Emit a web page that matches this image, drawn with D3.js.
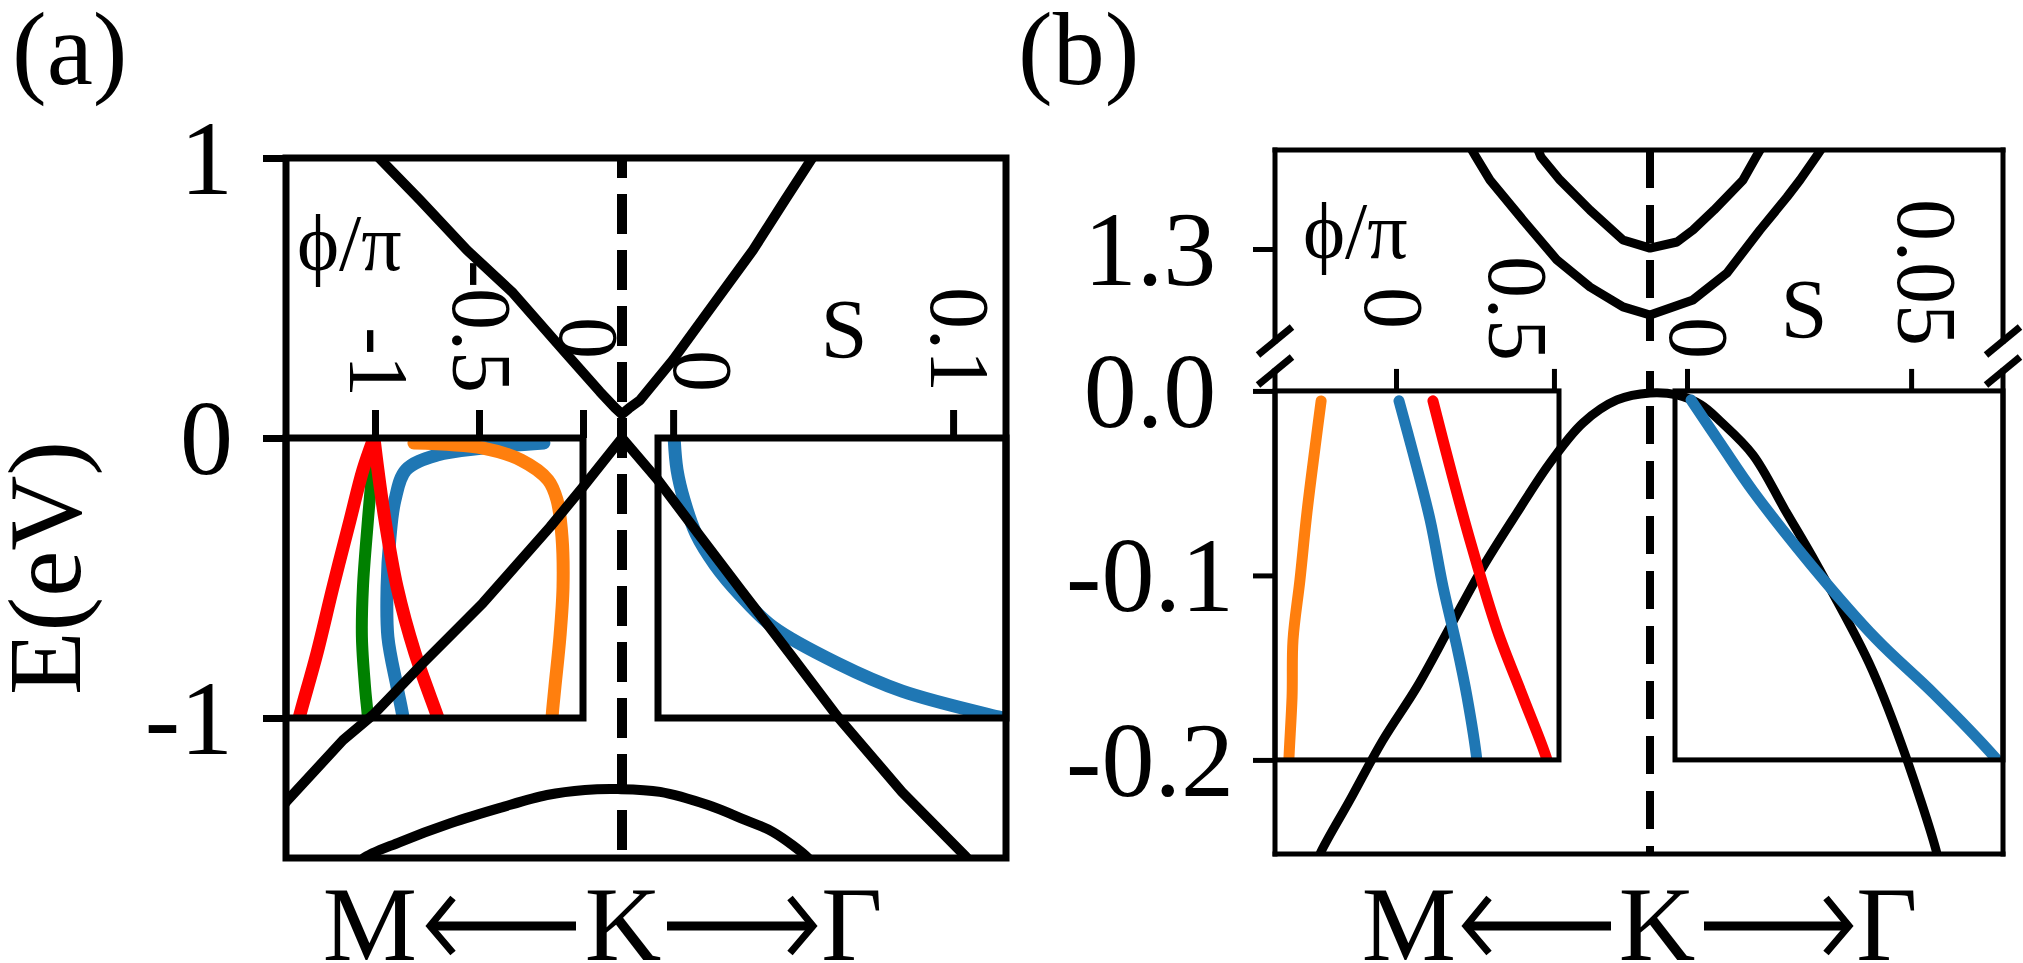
<!DOCTYPE html>
<html lang="en">
<head>
<meta charset="UTF-8">
<title>Band structure with phase insets</title>
<style>
  html, body { margin: 0; padding: 0; background: #fff; }
  svg { display: block; font-family: "Liberation Serif", "Times New Roman", "DejaVu Serif", serif; }
  text { font-family: "Liberation Serif", "Times New Roman", "DejaVu Serif", serif; fill: #000; }
</style>
</head>
<body>
<svg id="fig" width="2023" height="963"></svg>
<script src="https://cdn.jsdelivr.net/npm/d3@7"></script>
<script>
// ---------- data: [k, E] for bands (K = 0), [phi/pi or S, E] for insets ----------
// panel (a)
const aUpperBand = [[-0.249, 1.021], [-0.244, 1.004], [-0.202, 0.850], [-0.155, 0.671], [-0.109, 0.518],
  [-0.059, 0.314], [-0.022, 0.165], [-0.007, 0.108], [0, 0.085], [0.007, 0.106], [0.018, 0.135],
  [0.051, 0.279], [0.085, 0.446], [0.131, 0.671], [0.163, 0.850], [0.191, 1.004], [0.195, 1.021]];
const aLowerBand = [[-0.340, -1.320], [-0.335, -1.296], [-0.279, -1.079], [-0.249, -0.989], [-0.199, -0.804],
  [-0.139, -0.589], [-0.072, -0.318], [-0.039, -0.175], [0, 0.0], [0.035, -0.146], [0.078, -0.350],
  [0.119, -0.543], [0.168, -0.771], [0.215, -0.993], [0.280, -1.264], [0.344, -1.496], [0.350, -1.520]];
const aDomeBand = [[-0.262, -1.520], [-0.258, -1.500], [-0.222, -1.443], [-0.171, -1.375], [-0.122, -1.321],
  [-0.075, -1.275], [-0.037, -1.257], [-0.004, -1.254], [0.038, -1.264], [0.086, -1.311],
  [0.123, -1.364], [0.151, -1.407], [0.186, -1.500], [0.190, -1.520]];
const aRedLeft = [[-1.380, -1.05], [-1.365, -1.0], [-1.279, -0.768], [-1.202, -0.532], [-1.120, -0.293], [-1.058, -0.114], [-1.005, 0.0]];
const aRedRight = [[-1.005, 0.0], [-0.986, -0.114], [-0.952, -0.293], [-0.894, -0.532], [-0.808, -0.768], [-0.697, -1.0], [-0.675, -1.05]];
const aGreen = [[-1.010, -0.025], [-1.014, -0.114], [-1.034, -0.293], [-1.058, -0.532], [-1.063, -0.711], [-1.048, -0.889], [-1.034, -1.0], [-1.031, -1.05]];
const aBlue = [[-0.188, -0.018], [-0.481, -0.036], [-0.702, -0.061], [-0.851, -0.114], [-0.904, -0.221], [-0.928, -0.354],
  [-0.942, -0.532], [-0.938, -0.711], [-0.894, -0.889], [-0.865, -1.0], [-0.860, -1.05]];
const aOrange = [[-0.813, -0.018], [-0.481, -0.036], [-0.298, -0.079], [-0.168, -0.150], [-0.125, -0.221], [-0.101, -0.354],
  [-0.096, -0.532], [-0.111, -0.711], [-0.135, -0.889], [-0.149, -1.0], [-0.151, -1.05]];
const aBlueS = [[0.0004, -0.006], [0.0014, -0.114], [0.0039, -0.221], [0.0082, -0.343], [0.015, -0.454], [0.0239, -0.561],
  [0.0357, -0.675], [0.0586, -0.804], [0.0818, -0.904], [0.1161, -0.996], [0.1200, -1.005]];

// panel (b)
const bLowerBand = [[-0.336, -0.260], [-0.330, -0.251], [-0.300, -0.2217], [-0.267, -0.1892], [-0.233, -0.1604], [-0.200, -0.1279],
  [-0.167, -0.0954], [-0.133, -0.0661], [-0.100, -0.0390], [-0.067, -0.0173], [-0.033, -0.0049], [0, -0.0011],
  [0.027, -0.0022], [0.051, -0.0076], [0.070, -0.0163], [0.103, -0.0347], [0.135, -0.0645], [0.167, -0.0943],
  [0.219, -0.1474], [0.251, -0.1908], [0.287, -0.2509], [0.290, -0.260]];
const bUpperOuter = [[-0.181, 1.3564], [-0.174, 1.3499], [-0.160, 1.3374], [-0.127, 1.3157], [-0.093, 1.2940], [-0.060, 1.2794],
  [-0.027, 1.2686], [0, 1.2642], [0.043, 1.2724], [0.077, 1.2870], [0.110, 1.3103], [0.137, 1.3282],
  [0.150, 1.3374], [0.166, 1.3499], [0.174, 1.3564]];
const bUpperInner = [[-0.114, 1.3564], [-0.109, 1.3499], [-0.090, 1.3374], [-0.060, 1.3211], [-0.027, 1.3049], [0, 1.3005],
  [0.027, 1.3038], [0.043, 1.3103], [0.064, 1.3211], [0.093, 1.3374], [0.106, 1.3499], [0.113, 1.3564]];
const bOrange = [[-0.237, -0.0054], [-0.256, -0.0304], [-0.282, -0.0661], [-0.304, -0.1024], [-0.326, -0.1350], [-0.329, -0.1659], [-0.339, -0.2], [-0.340, -0.21]];
const bBlue = [[0.0095, -0.0054], [0.054, -0.0336], [0.108, -0.0699], [0.149, -0.1062], [0.193, -0.1388], [0.225, -0.1659], [0.256, -0.2], [0.260, -0.21]];
const bRed = [[0.117, -0.0054], [0.171, -0.0412], [0.234, -0.0808], [0.320, -0.1295], [0.402, -0.1659], [0.478, -0.2], [0.490, -0.21]];
const bBlueS = [[0.0009, -0.0049], [0.0078, -0.0298], [0.0147, -0.0542], [0.0277, -0.0943], [0.0422, -0.1344], [0.0551, -0.1642], [0.0688, -0.1989], [0.0695, -0.201]];

// ticks
const aYTicks = [-1, 0, 1], aYLabels = ['-1', '0', '1'];
const aPhiTicks = [-1, -0.5, 0], aPhiLabels = ['-1', '-0.5', '0'];
const aSTicks = [0, 0.1], aSLabels = ['0', '0.1'];
const bYTicksLow = [-0.2, -0.1, 0], bYLabelsLow = ['-0.2', '-0.1', '0.0'];
const bYTicksHigh = [1.3], bYLabelsHigh = ['1.3'];
const bPhiTicks = [0, 0.5], bPhiLabels = ['0', '0.5'];
const bSTicks = [0, 0.05], bSLabels = ['0', '0.05'];

// ---------- setup ----------
const svg = d3.select('#fig');
const defs = svg.append('defs');
svg.append('rect').attr('width', 2023).attr('height', 963).attr('fill', '#fff');

const BLUE = '#1f77b4', ORANGE = '#ff7f0e', GREEN = '#008000', RED = '#ff0000';
const smooth = d3.curveCatmullRom.alpha(0.5);

function clip(id, x0, x1, y0, y1) {
  defs.append('clipPath').attr('id', id).append('rect')
    .attr('x', x0).attr('y', y0).attr('width', x1 - x0).attr('height', y1 - y0);
}

function curve(g, pts, xs, ys, color, width, clipId, kind) {
  const gen = d3.line().x(d => xs(d[0])).y(d => ys(d[1])).curve(kind || smooth);
  g.append('path').attr('d', gen(pts))
    .attr('fill', 'none').attr('stroke', color).attr('stroke-width', width)
    .attr('stroke-linecap', 'round').attr('stroke-linejoin', 'round')
    .attr('clip-path', 'url(#' + clipId + ')');
}

function seg(g, x1, y1, x2, y2, w) {
  g.append('line').attr('x1', x1).attr('y1', y1).attr('x2', x2).attr('y2', y2)
    .attr('stroke', '#000').attr('stroke-width', w).attr('stroke-linecap', 'square');
}

function box(g, x0, x1, y0, y1, w) {
  g.append('rect').attr('x', x0).attr('y', y0).attr('width', x1 - x0).attr('height', y1 - y0)
    .attr('fill', 'none').attr('stroke', '#000').attr('stroke-width', w);
}

function tickLines(g, axis, tx, ty, w) {
  g.append('g').attr('transform', 'translate(' + tx + ',' + ty + ')')
    .call(axis.tickFormat(''))
    .call(s => s.select('.domain').remove())
    .call(s => s.selectAll('text').remove())
    .selectAll('line').attr('stroke', '#000').attr('stroke-width', w);
}

// rotated inset tick label, read top to bottom, ending at yEnd
function rotLabel(g, cx, yEnd, txt) {
  g.append('text').attr('transform', 'translate(' + cx + ',' + yEnd + ') rotate(90)')
    .attr('text-anchor', 'end').attr('dy', '0.33em').attr('font-size', 84).text(txt);
}

function dashed(g, x, y0, y1, w, dash, off) {
  g.append('line').attr('x1', x).attr('x2', x).attr('y1', y0).attr('y2', y1)
    .attr('stroke', '#000').attr('stroke-width', w)
    .attr('stroke-dasharray', dash).attr('stroke-dashoffset', off);
}

function arrow(g, xTail, xTip, y) {
  const dir = Math.sign(xTip - xTail);
  g.append('line').attr('x1', xTail).attr('x2', xTip - dir * 4).attr('y1', y).attr('y2', y)
    .attr('stroke', '#000').attr('stroke-width', 9);
  g.append('polyline')
    .attr('points', (xTip - dir * 27) + ',' + (y - 28) + ' ' + (xTip - dir * 4) + ',' + y + ' ' + (xTip - dir * 27) + ',' + (y + 27))
    .attr('fill', 'none').attr('stroke', '#000').attr('stroke-width', 7).attr('stroke-linejoin', 'miter');
}

function pathLabels(g, kx, lay) {
  const y = 960, ay = 926;
  g.append('text').attr('x', kx + lay.m).attr('y', y).attr('text-anchor', 'middle').attr('font-size', 106).text('M');
  g.append('text').attr('x', kx + lay.k).attr('y', y).attr('text-anchor', 'middle').attr('font-size', 106).text('K');
  g.append('text').attr('x', kx + lay.g).attr('y', y).attr('text-anchor', 'middle').attr('font-size', 106).text('Γ');
  arrow(g, kx + lay.la[1], kx + lay.la[0], ay);
  arrow(g, kx + lay.ra[0], kx + lay.ra[1], ay);
}

// ---------- panel (a) ----------
const xA = d3.scaleLinear().domain([-0.336, 0.384]).range([286, 1006]);
const yA = d3.scaleLinear().domain([-1.5, 1]).range([858, 158]);
const phiA = d3.scaleLinear().domain([-1.428, 0]).range([286, 583]);
const sA = d3.scaleLinear().domain([-0.0054, 0.1189]).range([658, 1006]);

clip('clipA', 286, 1006, 158, 858);
clip('clipAphi', 286, 583, yA(0), yA(-1));
clip('clipAs', 658, 1006, yA(0), yA(-1));

const gA = svg.append('g');
curve(gA, aGreen, phiA, yA, GREEN, 12, 'clipAphi');
curve(gA, aBlue, phiA, yA, BLUE, 13, 'clipAphi');
curve(gA, aOrange, phiA, yA, ORANGE, 13, 'clipAphi');
curve(gA, aRedLeft, phiA, yA, RED, 13, 'clipAphi');
curve(gA, aRedRight, phiA, yA, RED, 13, 'clipAphi');
curve(gA, aBlueS, sA, yA, BLUE, 13, 'clipAs');

curve(gA, aUpperBand, xA, yA, '#000', 10, 'clipA', d3.curveLinear);
curve(gA, aLowerBand, xA, yA, '#000', 10, 'clipA', d3.curveLinear);
curve(gA, aDomeBand, xA, yA, '#000', 10, 'clipA');
dashed(gA, xA(0), 158, 858, 10, '40 16', 20);

box(gA, 286, 1006, 158, 858, 7);
box(gA, 286, 583, yA(0), yA(-1), 7);
box(gA, 658, 1006, yA(0), yA(-1), 7);

tickLines(gA, d3.axisLeft(yA).tickValues(aYTicks).tickSize(23), 286, 0, 7);
aYTicks.forEach((v, i) => {
  gA.append('text').attr('x', 233).attr('y', yA(v)).attr('dy', '0.34em')
    .attr('text-anchor', 'end').attr('font-size', 106).text(aYLabels[i]);
});
tickLines(gA, d3.axisTop(phiA).tickValues(aPhiTicks).tickSize(28), 0, yA(0), 7);
tickLines(gA, d3.axisTop(sA).tickValues(aSTicks).tickSize(28), 0, yA(0), 7);

const aPhiLay = { dx: [3, 2, 5], end: [397, 393, 359] };
aPhiTicks.forEach((v, i) => rotLabel(gA, phiA(v) + aPhiLay.dx[i], aPhiLay.end[i], aPhiLabels[i]));
const aSLay = { dx: [29, 6], end: [392, 392] };
aSTicks.forEach((v, i) => rotLabel(gA, sA(v) + aSLay.dx[i], aSLay.end[i], aSLabels[i]));

gA.append('text').attr('x', 297).attr('y', 270).attr('font-size', 80).text('ϕ/π');
gA.append('text').attr('x', 844).attr('y', 358).attr('text-anchor', 'middle').attr('font-size', 84).text('S');
gA.append('text').attr('x', 12).attr('y', 84).attr('font-size', 104).text('(a)');
gA.append('text').attr('transform', 'translate(80,568) rotate(-90)')
  .attr('text-anchor', 'middle').attr('font-size', 104).text('E(eV)');
pathLabels(gA, xA(0), { m: -252, k: 1, g: 230, la: [-196, -46], ra: [45, 195] });

// ---------- panel (b) ----------
const xB = d3.scaleLinear().domain([-0.375, 0.353]).range([1275, 2003]);
const yBlo = d3.scaleLinear().domain([-0.251, 0.0108]).range([854, 371]);
const yBhi = d3.scaleLinear().domain([1.2501, 1.3537]).range([341, 150]);
const phiB = d3.scaleLinear().domain([-0.383, 0.516]).range([1275, 1559]);
const sB = d3.scaleLinear().domain([-0.00268, 0.0705]).range([1675, 2003]);

clip('clipBhi', 1275, 2003, 150, 341);
clip('clipBlo', 1275, 2003, 371, 854);
clip('clipBphi', 1275, 1559, yBlo(0), yBlo(-0.2));
clip('clipBs', 1675, 2003, yBlo(0), yBlo(-0.2));

const gB = svg.append('g');
curve(gB, bUpperOuter, xB, yBhi, '#000', 9, 'clipBhi', d3.curveLinear);
curve(gB, bUpperInner, xB, yBhi, '#000', 9, 'clipBhi', d3.curveLinear);
curve(gB, bLowerBand, xB, yBlo, '#000', 9, 'clipBlo');

curve(gB, bOrange, phiB, yBlo, ORANGE, 11, 'clipBphi');
curve(gB, bBlue, phiB, yBlo, BLUE, 11, 'clipBphi');
curve(gB, bRed, phiB, yBlo, RED, 11, 'clipBphi');
curve(gB, bBlueS, sB, yBlo, BLUE, 11, 'clipBs');

dashed(gB, xB(0), 150, 341, 8, '38 17', 0);
dashed(gB, xB(0), 371, 854, 8, '38 17', 20);

// broken-axis frame
seg(gB, 1275, 150, 2003, 150, 5);
seg(gB, 1275, 150, 1275, 341, 5);
seg(gB, 2003, 150, 2003, 341, 5);
seg(gB, 1275, 371, 1275, 854, 5);
seg(gB, 2003, 371, 2003, 854, 5);
seg(gB, 1275, 854, 2003, 854, 5);
[1275, 2003].forEach(x => {
  [341, 371].forEach(y => {
    gB.append('line').attr('x1', x - 17).attr('y1', y + 14).attr('x2', x + 17).attr('y2', y - 14)
      .attr('stroke', '#000').attr('stroke-width', 7);
  });
});
box(gB, 1275, 1559, yBlo(0), yBlo(-0.2), 5);
box(gB, 1675, 2003, yBlo(0), yBlo(-0.2), 5);

tickLines(gB, d3.axisLeft(yBlo).tickValues(bYTicksLow).tickSize(22), 1275, 0, 5);
tickLines(gB, d3.axisLeft(yBhi).tickValues(bYTicksHigh).tickSize(22), 1275, 0, 5);
bYTicksLow.forEach((v, i) => {
  gB.append('text').attr('x', 1150).attr('y', yBlo(v)).attr('dy', '0.34em')
    .attr('text-anchor', 'middle').attr('font-size', 106).text(bYLabelsLow[i]);
});
bYTicksHigh.forEach((v, i) => {
  gB.append('text').attr('x', 1150).attr('y', yBhi(v)).attr('dy', '0.34em')
    .attr('text-anchor', 'middle').attr('font-size', 106).text(bYLabelsHigh[i]);
});
tickLines(gB, d3.axisTop(phiB).tickValues(bPhiTicks).tickSize(22), 0, yBlo(0), 5);
tickLines(gB, d3.axisTop(sB).tickValues(bSTicks).tickSize(22), 0, yBlo(0), 5);

const bPhiLay = { dx: [-3, -37], end: [329, 361] };
bPhiTicks.forEach((v, i) => rotLabel(gB, phiB(v) + bPhiLay.dx[i], bPhiLay.end[i], bPhiLabels[i]));
const bSLay = { dx: [11, 15], end: [359, 346] };
bSTicks.forEach((v, i) => rotLabel(gB, sB(v) + bSLay.dx[i], bSLay.end[i], bSLabels[i]));

gB.append('text').attr('x', 1303).attr('y', 258).attr('font-size', 80).text('ϕ/π');
gB.append('text').attr('x', 1804).attr('y', 338).attr('text-anchor', 'middle').attr('font-size', 84).text('S');
gB.append('text').attr('x', 1018).attr('y', 84).attr('font-size', 104).text('(b)');
pathLabels(gB, xB(0), { m: -241, k: 7, g: 237, la: [-188, -39], ra: [54, 203] });
</script>
</body>
</html>
